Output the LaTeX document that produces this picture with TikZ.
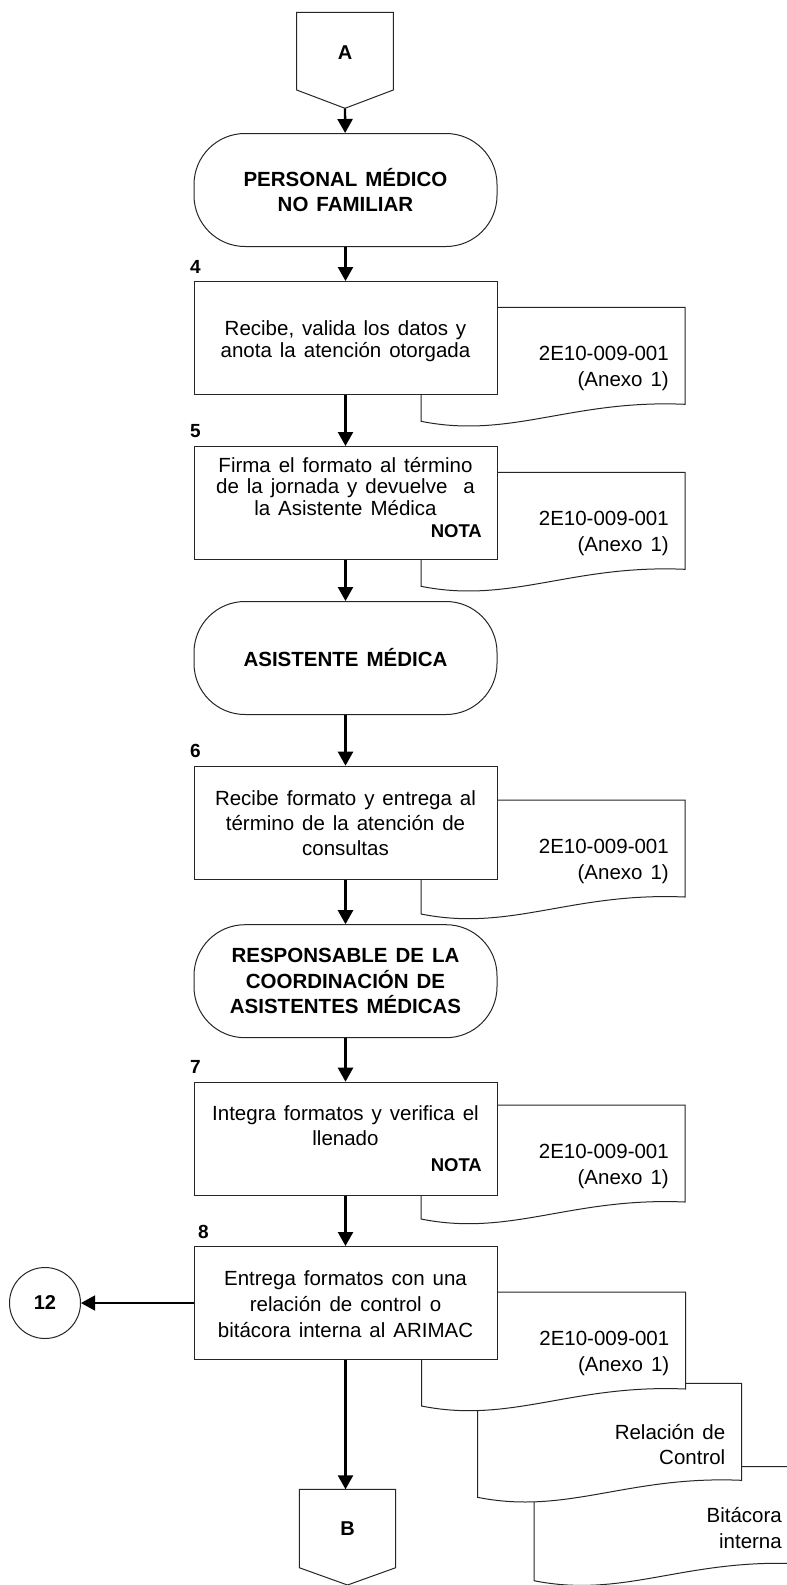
\documentclass[tikz,border=0pt]{standalone}
\usepackage{fontspec}
\setmainfont{Liberation Sans}[WordSpace=1.4]
\usetikzlibrary{arrows.meta}

% Document symbol: left x, top y, label; wavy bottom edge
\newcommand{\docsheet}[4]{%
  \draw[outline] (#2,#3) -- (#2+264,#3) -- (#2+264,#3+97)
    .. controls (#2+150,#3+92) and (#2+90,#3+132) .. (#2,#3+114) -- cycle;
  \node[doctext, anchor=east] (#1) at (#2+248,#3+61.3) {#4};
}

\begin{document}
\begin{tikzpicture}[x=1pt,y=-1pt,
  outline/.style={draw=black!85, line width=1pt, fill=white},
  procbox/.style={outline, rectangle, minimum width=303pt, minimum height=113pt, inner sep=0pt},
  terminal/.style={outline, rectangle, rounded corners=51pt, minimum width=303pt,
    minimum height=113pt, align=center, inner sep=0pt,
    font=\fontsize{20.5}{25.5}\selectfont\bfseries},
  boxtext/.style={align=center, inner sep=0pt, font=\fontsize{20.5}{#1}\selectfont},
  boxtext/.default=25,
  doctext/.style={align=right, inner sep=0pt, font=\fontsize{20.5}{25.5}\selectfont},
  notatext/.style={inner sep=0pt, anchor=east, font=\fontsize{18.5}{20}\selectfont\bfseries},
  steplabel/.style={inner sep=0pt, anchor=west, font=\fontsize{19}{20}\selectfont\bfseries},
  conntext/.style={inner sep=0pt, font=\fontsize{20}{22}\selectfont\bfseries},
  flow/.style={line width=2.4pt, draw=black, -{Triangle[length=14pt,width=15pt]}},
  thinflow/.style={line width=1.5pt, draw=black, -{Triangle[length=14pt,width=15pt]}}
]
\useasboundingbox (0,0) rectangle (787,1585);
\fill[white] (0,0) rectangle (787,1585);

% off-page connector A
\draw[outline] (296.7,12.3) -- (393.3,12.3) -- (393.3,90) -- (345,108.3) -- (296.7,90) -- cycle;
\node[conntext] (A) at (345,53) {A};
\coordinate (Atip) at (345,108.3);

% documents attached to the activities
\docsheet{d4}{421}{307.3}{2E10-009-001\\(Anexo 1)}
\docsheet{d5}{421}{472.3}{2E10-009-001\\(Anexo 1)}
\docsheet{d6}{421}{800}{2E10-009-001\\(Anexo 1)}
\docsheet{d7}{421}{1105}{2E10-009-001\\(Anexo 1)}
\begin{scope}
  \clip (0,0) rectangle (787,1585);
  \docsheet{d8c}{534}{1466.7}{Bitácora\\interna}
\end{scope}
\docsheet{d8b}{477.5}{1383.3}{Relación de\\Control}
\docsheet{d8}{421.5}{1292}{2E10-009-001\\(Anexo 1)}

% responsible parties
\node[terminal] (t1) at (345.5,190) {PERSONAL MÉDICO\\NO FAMILIAR};
\node[terminal] (t2) at (345.5,658) {ASISTENTE MÉDICA};
\node[terminal] (t3) at (345.5,981.2) {RESPONSABLE DE LA\\COORDINACIÓN DE\\ASISTENTES MÉDICAS};

% activities
\node[procbox] (b4) at (345.5,338) {};
\node[boxtext=21.5] (b4t) at (345.5,341) {Recibe, valida los datos y\\anota la atención otorgada};
\node[steplabel] (n4) at (190,266.7) {4};

\node[procbox] (b5) at (345.5,503) {};
\node[boxtext=21.5] (b5t) at (345.5,486.3) {Firma el formato al término\\de la jornada y devuelve\ \ a\\la Asistente Médica};
\node[notatext] (b5n) at (482,531) {NOTA};
\node[steplabel] (n5) at (190,431) {5};

\node[procbox] (b6) at (345.5,822.7) {};
\node[boxtext=24.7] (b6t) at (345.5,823) {Recibe formato y entrega al\\término de la atención de\\consultas};
\node[steplabel] (n6) at (190,751) {6};

\node[procbox] (b7) at (345.5,1138.7) {};
\node[boxtext=25] (b7t) at (345.5,1126) {Integra formatos y verifica el\\llenado};
\node[notatext] (b7n) at (482,1165) {NOTA};
\node[steplabel] (n7) at (190,1067) {7};

\node[procbox] (b8) at (345.5,1303) {};
\node[boxtext=26] (b8t) at (345.5,1304) {Entrega formatos con una\\relación de control o\\bitácora interna al ARIMAC};
\node[steplabel] (n8) at (198,1232) {8};

% on-page connector 12
\node[outline, circle, minimum size=71pt, inner sep=0pt, font=\fontsize{20}{22}\selectfont\bfseries] (c12) at (45,1303) {12};

% off-page connector B
\draw[outline] (299.3,1489.3) -- (395.7,1489.3) -- (395.7,1567.7) -- (347.5,1585) -- (299.3,1567.7) -- cycle;
\node[conntext] (B) at (347.5,1528.3) {B};
\coordinate (Btop) at (345.5,1489.3);

% flow lines
\draw[flow] (Atip) -- (t1);
\draw[flow] (t1) -- (b4);
\draw[flow] (b4) -- (b5);
\draw[flow] (b5) -- (t2);
\draw[flow] (t2) -- (b6);
\draw[flow] (b6) -- (t3);
\draw[flow] (t3) -- (b7);
\draw[flow] (b7) -- (b8);
\draw[flow] (b8) -- (Btop);
\draw[thinflow] (b8) -- (c12);
\end{tikzpicture}
\end{document}
